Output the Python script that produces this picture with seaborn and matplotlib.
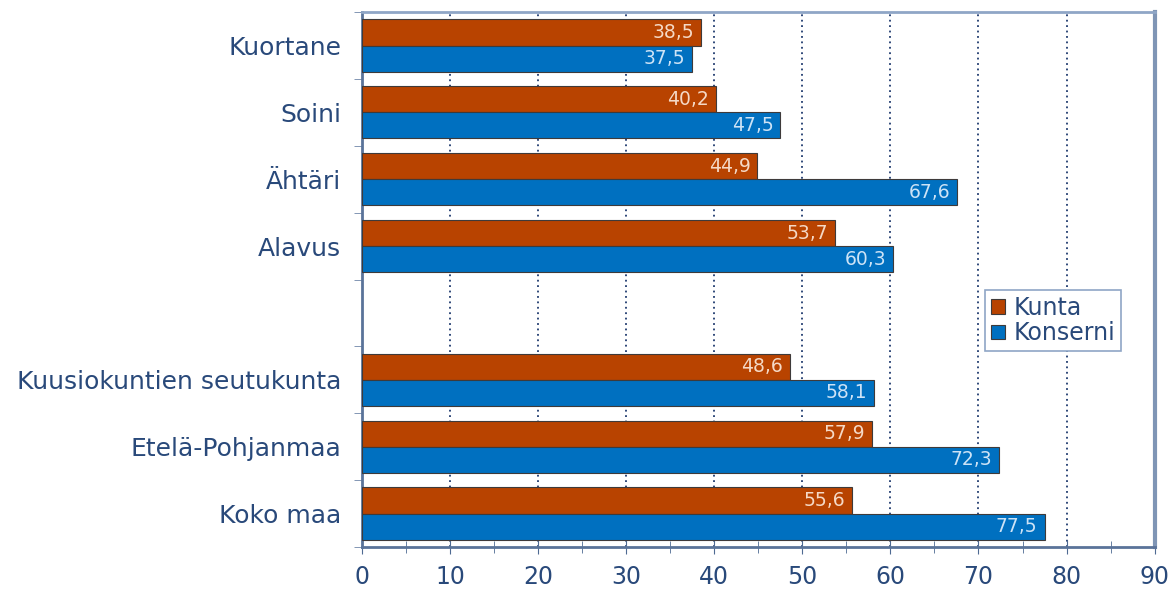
import numpy as np
import pandas as pd
import seaborn as sns
import matplotlib.pyplot as plt
from matplotlib.ticker import MultipleLocator, FixedLocator

# Data
alueet = ["Kuortane", "Soini", "Ähtäri", "Alavus", "",
          "Kuusiokuntien seutukunta", "Etelä-Pohjanmaa", "Koko maa"]
kunta = [38.5, 40.2, 44.9, 53.7, None, 48.6, 57.9, 55.6]
konserni = [37.5, 47.5, 67.6, 60.3, None, 58.1, 72.3, 77.5]
sarjat = ["Kunta", "Konserni"]
varit = ["#B84300", "#0070C0"]
tekstivarit = ["#F5D9C6", "#CDE3F6"]

rows = []
for a, k1, k2 in zip(alueet, kunta, konserni):
    if k1 is not None:
        rows.append({"alue": a, "sarja": "Kunta", "arvo": k1})
        rows.append({"alue": a, "sarja": "Konserni", "arvo": k2})
df = pd.DataFrame(rows)

sns.set_style("white")
plt.rcParams['font.family'] = ['DejaVu Sans']
tekstivari = "#29497A"

fig = plt.figure(figsize=(11.69, 5.93), dpi=100)
ax = fig.add_axes([0.3097, 0.0776, 0.678, 0.902])

sns.barplot(data=df, y="alue", x="arvo", hue="sarja", order=alueet,
            hue_order=sarjat, palette=varit, saturation=1, orient="h", width=0.78,
            edgecolor="#3E3A3A", linewidth=0.8, ax=ax, zorder=3)

# arvot palkkien sisään
for cont, tv in zip(ax.containers, tekstivarit):
    labs = ax.bar_label(cont, labels=[f"{v:.1f}".replace(".", ",") for v in cont.datavalues],
                        padding=-5, color=tv, fontsize=13.5)
    for t in labs:
        t.set_ha("right")

ax.set_xlim(0, 90)
ax.set_ylim(len(alueet) - 0.5, -0.5)
ax.xaxis.set_major_locator(MultipleLocator(10))
ax.xaxis.set_minor_locator(MultipleLocator(5))
ax.yaxis.set_minor_locator(FixedLocator(np.arange(-0.5, len(alueet), 1)))

ax.set_xlabel("")
ax.set_ylabel("")
ax.tick_params(axis="y", which="major", length=0, labelsize=18, labelcolor=tekstivari, pad=15)
ax.tick_params(axis="y", which="minor", length=6, color="#6F86A8", direction="out", left=True)
ax.tick_params(axis="x", which="major", length=10, color="#4E6A92", direction="inout",
               labelsize=17, labelcolor=tekstivari, pad=8, bottom=True)
ax.tick_params(axis="x", which="minor", length=8, color="#4E6A92", direction="inout", bottom=True)

ax.grid(axis="x", which="major", linestyle=(0, (1, 2)), color="#1F3A6E", linewidth=1.3, zorder=0)

for s in ["left", "bottom"]:
    ax.spines[s].set_color("#5A7399")
    ax.spines[s].set_linewidth(2)
ax.spines["top"].set_color("#8FA6C6")
ax.spines["top"].set_linewidth(2)
ax.spines["right"].set_color("#7F95B5")
ax.spines["right"].set_linewidth(3)

leg = ax.legend(loc="upper left", bbox_to_anchor=(0.786, 0.48), borderaxespad=0,
                fontsize=17, frameon=True, fancybox=False, handlelength=0.6,
                handleheight=0.6, handletextpad=0.35, borderpad=0.25,
                labelspacing=0.05, framealpha=1)
leg.get_frame().set_edgecolor("#8FA6C6")
leg.get_frame().set_linewidth(1.2)
for t in leg.get_texts():
    t.set_color(tekstivari)

plt.savefig("out.png", dpi=100)
